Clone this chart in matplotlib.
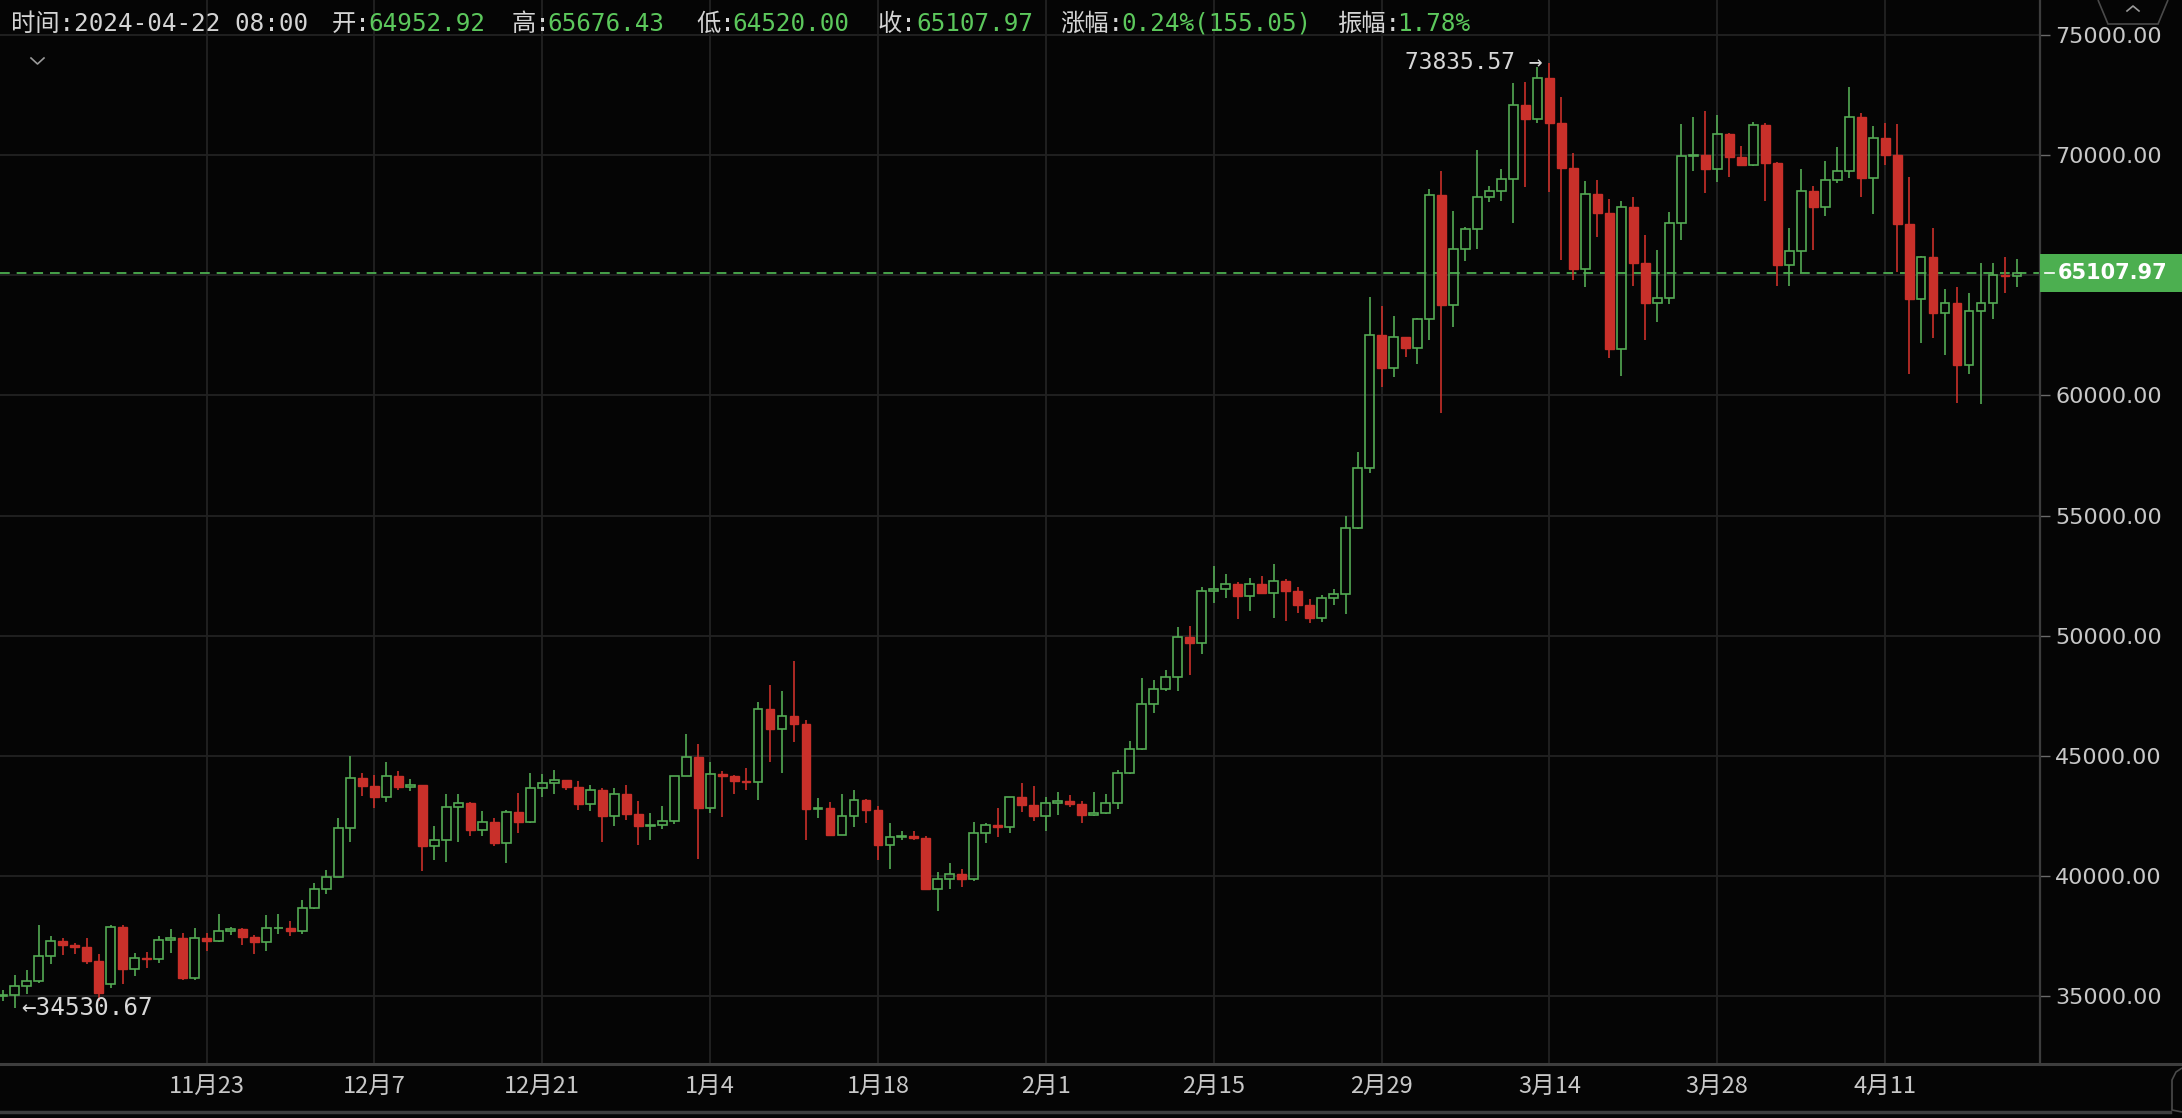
import datetime as dt
import matplotlib
matplotlib.use("Agg")
import matplotlib.pyplot as plt
import matplotlib.transforms as mtransforms
from matplotlib.patches import Rectangle, Polygon
from matplotlib.lines import Line2D

plt.rcParams['lines.scale_dashes'] = False

# ---------------- data (daily candles, 2023-11-06 .. 2024-04-22) ----------------
start_date = "2023-11-06"
opens = [35011, 35046, 35420, 35640, 36700, 37320, 37130, 37065, 36460, 35500,
         37880, 36160, 36600, 36570, 37360, 37450, 35760, 37410, 37290, 37720,
         37790, 37480, 37250, 37830, 37860, 37720, 38690, 39470, 39980, 41990,
         44080, 43750, 43290, 44170, 43710, 43790, 41240, 41490, 42890, 43030,
         41940, 42270, 41370, 42660, 42270, 43660, 43870, 43990, 43730, 43020,
         43590, 42510, 43440, 42590, 42070, 42140, 42280, 44180, 44950, 42850,
         44240, 44160, 43970, 43930, 46960, 46120, 46660, 46340, 42780, 42850,
         41730, 42500, 43150, 42750, 41280, 41640, 41680, 41600, 39480, 39900,
         40080, 39900, 41810, 42120, 42030, 43300, 42960, 42500, 43060, 43140,
         42990, 42540, 42640, 43030, 44300, 45280, 47150, 47780, 48300, 49960,
         49700, 51880, 51930, 52140, 51640, 52140, 51780, 52280, 51850, 51300,
         50740, 51570, 51730, 54500, 57000, 62500, 61160, 62430, 61980, 63180,
         68330, 63760, 66100, 66930, 68250, 68520, 69000, 72080, 71480, 73190,
         71340, 69480, 65240, 68370, 67580, 61920, 67850, 65490, 63830, 64040,
         67180, 69950, 69990, 69420, 70870, 69900, 69570, 71260, 69670, 65420,
         66020, 68520, 67820, 68960, 69350, 71600, 69060, 70700, 70000, 67150,
         64000, 65770, 63410, 63860, 61260, 63520, 63860, 64990, 64952.92]
highs = [35250, 35892, 36100, 37980, 37530, 37410, 37230, 37420, 36750, 37990,
         37950, 36800, 36850, 37500, 37800, 37650, 37860, 37650, 38420, 37890,
         37840, 37560, 38370, 38410, 38150, 38999, 39700, 40250, 42420, 45000,
         44300, 44230, 44750, 44370, 44050, 43810, 42100, 43430, 43420, 43090,
         42700, 42430, 42760, 43480, 44280, 44240, 44400, 44020, 43950, 43800,
         43650, 43680, 43800, 43130, 42610, 42900, 44180, 45900, 45500, 44730,
         44360, 44230, 44500, 47250, 47970, 47700, 48970, 46500, 43260, 43080,
         43400, 43580, 43200, 42930, 42200, 41870, 41880, 41690, 40180, 40560,
         40300, 42250, 42200, 42850, 43310, 43890, 43750, 43290, 43490, 43380,
         43120, 43520, 43400, 44400, 45610, 48230, 48170, 48590, 50380, 50400,
         52040, 52900, 52580, 52250, 52400, 52490, 52990, 52370, 52010, 51550,
         51700, 51950, 54990, 57650, 64100, 63700, 63300, 62450, 63230, 68600,
         69330, 67650, 67000, 70200, 68700, 69400, 72980, 73050, 73650, 73835.57,
         72430, 70070, 68920, 68960, 68160, 68100, 68270, 66670, 66050, 67640,
         71290, 71600, 71840, 71670, 70920, 70360, 71380, 71340, 69710, 66950,
         69400, 68730, 69730, 70350, 72820, 71760, 71190, 71320, 71290, 69100,
         65800, 66950, 64410, 64520, 64250, 65520, 65490, 65740, 65676.43]
lows = [34800, 34530.67, 35100, 35540, 36330, 36710, 36750, 36330, 34800, 35360,
        35500, 35860, 36180, 36380, 36800, 35670, 35670, 36870, 37250, 37550,
        37150, 36750, 36880, 37600, 37500, 37615, 38650, 39280, 39980, 41420,
        43340, 42850, 43080, 43580, 43560, 40200, 40680, 40600, 41420, 41670,
        41680, 41250, 40540, 41800, 42210, 43280, 43400, 43590, 42770, 42720,
        41430, 42100, 42320, 41300, 41520, 41970, 42180, 44150, 40700, 42620,
        42450, 43420, 43600, 43180, 44750, 44300, 45600, 41500, 42440, 41720,
        41720, 42050, 42200, 40680, 40280, 41500, 41500, 39430, 38550, 39480,
        39550, 39820, 41390, 41620, 41800, 42680, 42280, 41880, 42550, 42880,
        42220, 42500, 42570, 42790, 44250, 45240, 46800, 47690, 47710, 48370,
        49230, 51380, 51560, 50690, 51020, 51720, 50760, 50630, 50930, 50520,
        50590, 51280, 50920, 54450, 56770, 60360, 60780, 61600, 61320, 62300,
        59280, 62850, 65600, 66080, 68040, 68100, 67180, 68680, 71340, 68480,
        65630, 64780, 64520, 66600, 61540, 60800, 64550, 62300, 63070, 63800,
        66460, 69330, 68430, 68890, 69100, 69600, 69560, 68100, 64560, 64550,
        65100, 66050, 67450, 68820, 69040, 68270, 67530, 69580, 65150, 60870,
        62190, 62370, 61680, 59700, 60890, 59640, 63160, 64270, 64520.00]
closes = [35046, 35420, 35640, 36700, 37320, 37130, 37065, 36460, 35150, 37880,
          36160, 36600, 36570, 37360, 37450, 35760, 37410, 37290, 37720, 37790,
          37480, 37250, 37830, 37860, 37720, 38690, 39470, 39980, 41990, 44080,
          43750, 43290, 44170, 43710, 43790, 41240, 41490, 42890, 43030, 41940,
          42270, 41370, 42660, 42270, 43660, 43870, 43990, 43730, 43020, 43590,
          42510, 43440, 42590, 42070, 42140, 42280, 44180, 44950, 42850, 44240,
          44160, 43970, 43930, 46960, 46120, 46660, 46340, 42780, 42850, 41730,
          42500, 43150, 42750, 41280, 41640, 41680, 41600, 39480, 39900, 40080,
          39900, 41810, 42120, 42030, 43300, 42960, 42500, 43060, 43140, 42990,
          42540, 42640, 43030, 44300, 45280, 47150, 47780, 48300, 49960, 49700,
          51880, 51930, 52140, 51640, 52140, 51780, 52280, 51850, 51300, 50740,
          51570, 51730, 54500, 57000, 62500, 61160, 62430, 61980, 63180, 68330,
          63760, 66100, 66930, 68250, 68520, 69000, 72080, 71480, 73190, 71340,
          69480, 65240, 68370, 67580, 61920, 67850, 65490, 63830, 64040, 67180,
          69950, 69990, 69420, 70870, 69900, 69570, 71260, 69670, 65420, 66020,
          68520, 67820, 68960, 69350, 71600, 69060, 70700, 70000, 67150, 64000,
          65770, 63410, 63860, 61260, 63520, 63860, 64990, 64952.92, 65107.97]

tick_dates = ["2023-11-23", "2023-12-07", "2023-12-21", "2024-01-04", "2024-01-18",
              "2024-02-01", "2024-02-15", "2024-02-29", "2024-03-14", "2024-03-28",
              "2024-04-11"]
tick_labels = ["11月23", "12月7", "12月21", "1月4", "1月18", "2月1", "2月15",
               "2月29", "3月14", "3月28", "4月11"]
price_ticks = [35000, 40000, 45000, 50000, 55000, 60000, 65000, 70000, 75000]

# ---------------- style ----------------
W, H = 2182, 1118
BG = "#050505"
GRID = "#222222"
GREEN = "#54aa54"
RED = "#c9302a"
TXT = "#c8c8c8"
CJK = ["Noto Sans CJK SC", "DejaVu Sans"]
MONO = ["DejaVu Sans Mono", "Noto Sans CJK SC"]

fig = plt.figure(figsize=(W / 100, H / 100), dpi=100, facecolor=BG)
ax_bottom_px = 1062.7
ax = fig.add_axes([0, 1 - ax_bottom_px / H, 2040 / W, ax_bottom_px / H])
ax.set_facecolor(BG)

d0 = dt.date.fromisoformat(start_date)
n = len(opens)
xs = list(range(n))

# price scale: 75000 at y=34.8px, 24.04 px per 1000
ppx = 0.02404
ax.set_ylim(75000 - (ax_bottom_px - 34.8) / ppx, 75000 + 34.8 / ppx)
ax.set_xlim(-0.225, 169.92)

# grid
tick_pos = [(dt.date.fromisoformat(t) - d0).days for t in tick_dates]
for p in price_ticks:
    ax.axhline(p, color=GRID, lw=1.3, zorder=0)
for t in tick_pos:
    ax.axvline(t, color=GRID, lw=1.3, zorder=0)

# candles
bw = 0.74
for i in xs:
    o, h, l, c = opens[i], highs[i], lows[i], closes[i]
    top, bot = max(o, c), min(o, c)
    if c >= o:
        ax.vlines(i, top, h, color=GREEN, lw=1.2, zorder=2)
        ax.vlines(i, l, bot, color=GREEN, lw=1.2, zorder=2)
        ax.add_patch(Rectangle((i - bw / 2, bot), bw, max(top - bot, 1), facecolor="none",
                               edgecolor=GREEN, lw=1.2, zorder=3))
    else:
        ax.vlines(i, l, h, color=RED, lw=1.2, zorder=2)
        ax.add_patch(Rectangle((i - bw / 2, bot), bw, max(top - bot, 1), facecolor=RED,
                               edgecolor=RED, lw=1.0, zorder=3))

# current price dashed line
last = closes[-1]
ax.axhline(last, color="#4caf50", lw=1.3, dashes=(7, 5), zorder=1)

# max / min annotations
imax = max(xs, key=lambda i: highs[i])
imin = min(xs, key=lambda i: lows[i])
ax.text(imax - 0.55, highs[imax], f"{highs[imax]:.2f} →", ha="right", va="center",
        color="#d8d8d8", fontsize=16.5, family=MONO, zorder=5)
ax.text(imin + 0.55, lows[imin], f"←{lows[imin]:.2f}", ha="left", va="center",
        color="#d8d8d8", fontsize=17.5, family=MONO, zorder=5)

# axes / ticks
for s in ["top", "left", "bottom"]:
    ax.spines[s].set_visible(False)
ax.spines["right"].set_color("#3c3c3c")
ax.spines["right"].set_linewidth(1.6)
ax.yaxis.tick_right()
ax.set_yticks(price_ticks)
last_tick = min(price_ticks, key=lambda p: abs(p - closes[-1]))
ax.set_yticklabels(["" if p == last_tick else f"{p:.2f}" for p in price_ticks])
ax.tick_params(axis="y", length=7, width=1, color="#6a6a6a", pad=4,
               labelsize=16, labelcolor=TXT)
ax.set_xticks(tick_pos)
ax.set_xticklabels(tick_labels, family=CJK)
ax.tick_params(axis="x", length=0, pad=9, labelsize=17, labelcolor=TXT)

# current price tag
bt = mtransforms.blended_transform_factory(fig.transFigure, ax.transData)
tag_h = 38 / ppx
ax.add_patch(Rectangle((2040 / W, last - tag_h / 2), 142 / W, tag_h, transform=bt,
                       facecolor="#4caf50", edgecolor="none", clip_on=False, zorder=6))
ax.add_artist(Line2D([2045 / W, 2054 / W], [last, last], transform=bt, color="white",
                     lw=1.2, clip_on=False, zorder=7))
ax.text(2058 / W, last, f"{last:.2f}", transform=bt, ha="left", va="center",
        color="white", fontsize=15, fontweight="bold", clip_on=False, zorder=7)

# separators at bottom
fig.add_artist(Line2D([0, 1], [1 - 1063.5 / H] * 2, color="#3e3e3e", lw=2.2))
fig.add_artist(Line2D([0, 2170 / W], [1 - 1111.5 / H] * 2, color="#3e3e3e", lw=2.5))

# header
prev_close = closes[-2]
chg = closes[-1] - prev_close
pct = chg / prev_close * 100
amp = (highs[-1] - lows[-1]) / prev_close * 100
last_date = d0 + dt.timedelta(days=n - 1)
LAB = "#d4d4d4"
VAL = "#5cc85c"
hy = 1 - 24 / H
pieces = [
    (11, f"时间:{last_date:%Y-%m-%d} 08:00", LAB),
    (332, "开:", LAB), (368, f"{opens[-1]:.2f}", VAL),
    (512, "高:", LAB), (547, f"{highs[-1]:.2f}", VAL),
    (696, "低:", LAB), (732, f"{lows[-1]:.2f}", VAL),
    (878, "收:", LAB), (916, f"{closes[-1]:.2f}", VAL),
    (1060, "涨幅:", LAB), (1121, f"{pct:.2f}%({chg:.2f})", VAL),
    (1337, "振幅:", LAB), (1397, f"{amp:.2f}%", VAL),
]
for x, s, col in pieces:
    fig.text(x / W, hy, s, ha="left", va="center", color=col, fontsize=17.5, family=MONO)

# small chevron under header
fig.add_artist(Line2D([31 / W, 37.5 / W, 44 / W], [1 - 58 / H, 1 - 64 / H, 1 - 58 / H],
                      color="#9a9a9a", lw=1.2))
# top-right collapse tab
fig.add_artist(Polygon([[2098 / W, 1], [2108 / W, 1 - 24 / H], [2158 / W, 1 - 24 / H],
                        [2168 / W, 1]], closed=False, fill=False, edgecolor="#4a4a4a", lw=1.2))
fig.add_artist(Line2D([2127 / W, 2133 / W, 2139 / W], [1 - 11 / H, 1 - 6 / H, 1 - 11 / H],
                      color="#9a9a9a", lw=1.2))
# bottom-right scroll tab
fig.add_artist(Polygon([[W / W, 1 - 1068 / H], [2176 / W, 1 - 1072 / H], [2172 / W, 1 - 1080 / H],
                        [2172 / W, 1 - 1110 / H], [W / W, 1 - 1112 / H]], closed=False, fill=False,
                       edgecolor="#4a4a4a", lw=1.2))

fig.savefig("out.png", dpi=100, facecolor=BG)
